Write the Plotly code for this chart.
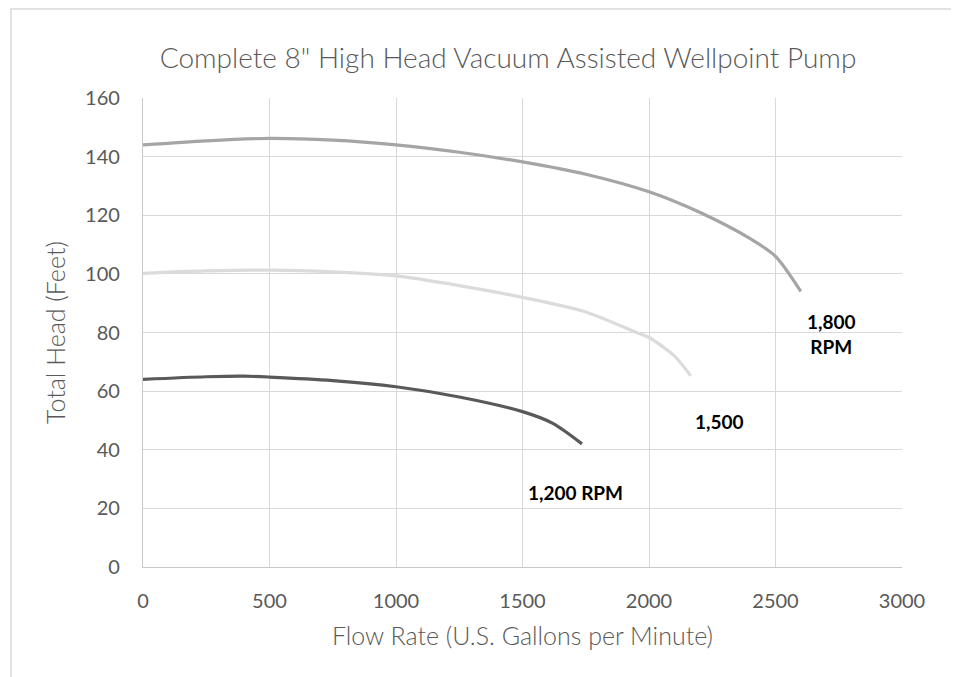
import plotly.graph_objects as go

# Data
flow_1800 = [0, 250, 500, 750, 1000, 1250, 1500, 1750, 2000, 2200, 2400, 2500, 2600]
head_1800 = [144, 145.4, 146.2, 145.6, 144, 141.5, 138.2, 134, 128, 121, 112, 106, 94]

flow_1500 = [0, 250, 500, 750, 1000, 1250, 1500, 1750, 1950, 2000, 2100, 2165]
head_1500 = [100.2, 101, 101.3, 100.7, 99.3, 96, 92, 87, 80, 78.3, 72, 65.2]

flow_1200 = [0, 250, 400, 500, 750, 1000, 1250, 1500, 1620, 1735]
head_1200 = [64, 64.9, 65.1, 64.8, 63.6, 61.5, 58, 53, 49, 42]

series_names = ["1,800 RPM", "1,500 RPM", "1,200 RPM"]
series_colors = ["#A5A5A5", "#DBDBDB", "#595959"]

label_texts = ["1,800<br>RPM", "1,500", "1,200 RPM"]
label_x = [2722, 2280, 1710]
label_y = [79.5, 49.5, 25.5]

x_ticks = [0, 500, 1000, 1500, 2000, 2500, 3000]
y_ticks = [0, 20, 40, 60, 80, 100, 120, 140, 160]

FONT = "Lato, Carlito, Calibri, sans-serif"

fig = go.Figure()
for fx, hy, name, col in zip([flow_1800, flow_1500, flow_1200],
                             [head_1800, head_1500, head_1200],
                             series_names, series_colors):
    fig.add_trace(go.Scatter(x=fx, y=hy, mode="lines", name=name,
                             line=dict(color=col, width=3.2, shape="spline", smoothing=0.8)))

for t, x, y in zip(label_texts, label_x, label_y):
    fig.add_annotation(x=x, y=y, text="<b>" + t + "</b>", showarrow=False,
                       font=dict(family=FONT, size=19, color="#000000"),
                       xanchor="center", yanchor="middle")

# chart-area border
fig.add_shape(type="rect", xref="paper", yref="paper",
              x0=-0.174, x1=1.068, y0=-0.3, y1=1.19,
              line=dict(color="#D9D9D9", width=1.5), layer="below")

fig.update_layout(
    width=959, height=677,
    margin=dict(l=135, r=65, t=90, b=118),
    paper_bgcolor="white", plot_bgcolor="white",
    showlegend=False,
    title=dict(text="Complete 8\" High Head Vacuum Assisted Wellpoint Pump",
               x=0.481, xanchor="center", xref="paper", yref="container", y=0.926, yanchor="middle",
               font=dict(family=FONT, size=28, color="#595959", weight=300)),
    font=dict(family=FONT, color="#595959"),
)

fig.update_xaxes(range=[0, 3000], tickvals=x_ticks, ticktext=[str(v) for v in x_ticks],
                 showgrid=True, gridcolor="#D9D9D9", gridwidth=1.3,
                 showline=True, linecolor="#C8C8C8", linewidth=1.3, mirror=False,
                 zeroline=False, ticks="", ticklabelstandoff=16,
                 tickfont=dict(family=FONT, size=20, color="#595959"),
                 title=dict(text="Flow Rate (U.S. Gallons per Minute)", standoff=16,
                            font=dict(family=FONT, size=25, color="#595959", weight=300)))
fig.update_yaxes(range=[0, 160], tickvals=y_ticks, ticktext=[str(v) for v in y_ticks],
                 showgrid=True, gridcolor="#D9D9D9", gridwidth=1.3,
                 showline=True, linecolor="#C8C8C8", linewidth=1.3,
                 zeroline=False, ticks="", ticklabelstandoff=18,
                 tickfont=dict(family=FONT, size=20, color="#595959"),
                 title=dict(text="Total Head (Feet)", standoff=12,
                            font=dict(family=FONT, size=25, color="#595959", weight=300)))

fig.write_html("out.html")
